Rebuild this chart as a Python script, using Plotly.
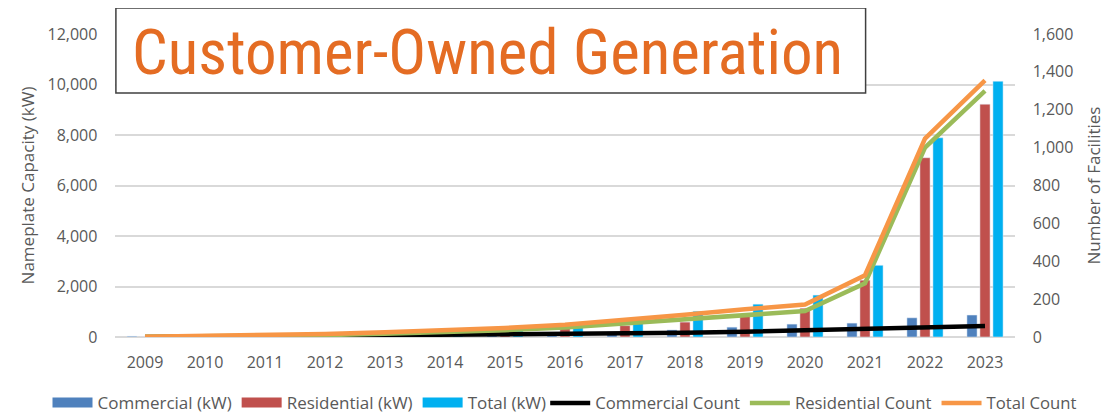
import plotly.graph_objects as go

years = [str(y) for y in range(2009, 2024)]
commercial_kw = [30, 5, 10, 10, 20, 30, 60, 100, 200, 280, 390, 510, 550, 760, 870]
residential_kw = [5, 15, 30, 50, 80, 120, 230, 330, 450, 590, 870, 1140, 2250, 7100, 9220]
total_kw = [35, 20, 40, 60, 100, 150, 290, 430, 760, 1020, 1300, 1660, 2840, 7890, 10130]
commercial_count = [0, 2, 4, 6, 8, 10, 12, 15, 18, 22, 28, 35, 42, 50, 58]
residential_count = [1, 3, 6, 10, 17, 24, 36, 50, 72, 95, 118, 137, 284, 1000, 1300]
total_count = [1, 5, 10, 16, 25, 34, 48, 65, 90, 117, 146, 172, 326, 1048, 1355]

font_family = "Open Sans, Noto Sans, sans-serif"
grey = "#595959"

bar_series = [("Commercial (kW)", commercial_kw, "#4F81BD"),
              ("Residential (kW)", residential_kw, "#C0504D"),
              ("Total (kW)", total_kw, "#00B0F0")]
line_series = [("Commercial Count", commercial_count, "black"),
               ("Residential Count", residential_count, "#9BBB59"),
               ("Total Count", total_count, "#F79646")]

fig = go.Figure()
for name, vals, col in bar_series:
    fig.add_bar(x=years, y=vals, name=name, marker_color=col, legendgroup=name, showlegend=False)
for name, vals, col in bar_series:
    # legend-only swatch (wide rectangle like the original)
    fig.add_scatter(x=[None], y=[None], name=name, mode="lines", legendgroup=name,
                    line=dict(color=col, width=12), legend="legend")
for name, vals, col in line_series:
    fig.add_scatter(x=years, y=vals, name=name, mode="lines",
                    line=dict(color=col, width=4.5), yaxis="y2", legend="legend2")

legend_common = dict(orientation="h", y=-0.218, yanchor="middle", xanchor="left",
                     itemwidth=40, tracegroupgap=0, bgcolor="rgba(0,0,0,0)")

# page body has an 8px margin, so the figure is drawn 8px smaller and offset accordingly
fig.update_layout(
    width=1110, height=406,
    margin=dict(l=107, r=103, t=26, b=77, autoexpand=False),
    paper_bgcolor="white", plot_bgcolor="white",
    font=dict(family=font_family, color=grey, size=15),
    barmode="group", bargap=0.35, bargroupgap=0.22,
    showlegend=True,
    legend=dict(x=-0.075, font=dict(size=17, color=grey), **legend_common),
    legend2=dict(x=0.478, font=dict(size=16.7, color=grey), **legend_common),
    xaxis=dict(showgrid=False, showline=False, ticks="", ticklabelstandoff=14,
               tickfont=dict(size=16, color=grey)),
    yaxis=dict(range=[0, 12000], dtick=2000, tickformat=",", showgrid=True, gridcolor="#D9D9D9",
               gridwidth=1.5, zeroline=True, zerolinecolor="#D9D9D9", zerolinewidth=1.5,
               tickfont=dict(size=16, color=grey), ticksuffix="    ",
               title=dict(text="Nameplate Capacity (kW)", font=dict(size=17, color=grey), standoff=8)),
    yaxis2=dict(range=[0, 1600], dtick=200, tickformat=",", overlaying="y", side="right",
                showgrid=False, zeroline=False, tickfont=dict(size=16, color=grey), tickprefix="    ",
                title=dict(text="Number of Facilities", font=dict(size=17, color=grey), standoff=15)),
    shapes=[dict(type="rect", xref="paper", yref="paper", x0=0.001, x1=0.834, y0=0.805, y1=1.086,
                 fillcolor="white", line=dict(color="#404040", width=1.5), layer="above")],
    annotations=[dict(text="Customer-Owned Generation", xref="paper", yref="paper",
                      x=0.414, y=0.94, xanchor="center", yanchor="middle", showarrow=False,
                      font=dict(family="Roboto Condensed, Liberation Sans Narrow, Arial Narrow, sans-serif",
                                size=63, color="#E46C23"))],
)

fig.write_html("out.html")
